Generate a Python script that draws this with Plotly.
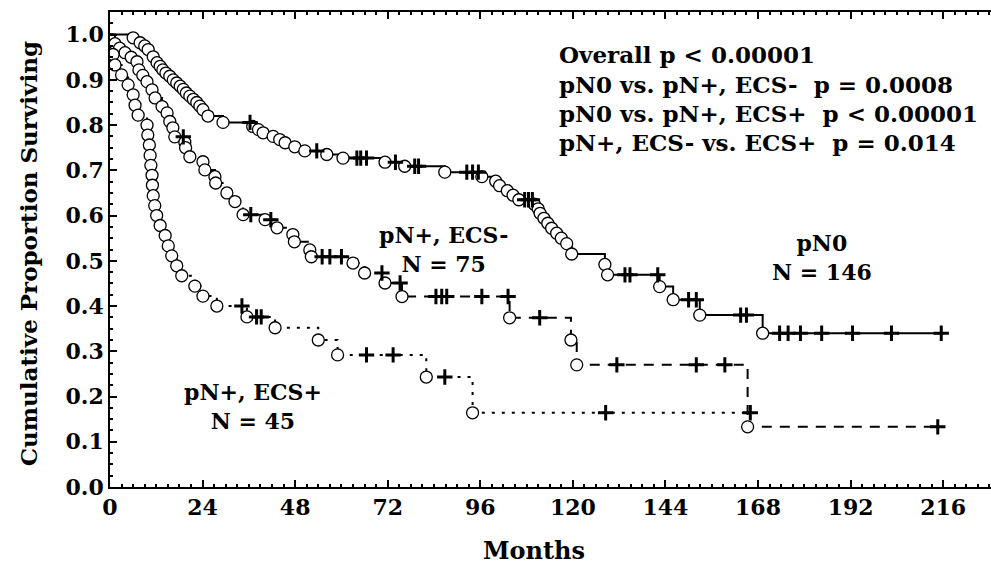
import plotly.graph_objects as go

# ---------------- data ----------------
# pN0, N = 146  (event times in months, survival after the event)
pn0_event_t = [6.0, 7.8, 9.0, 9.9, 11.2, 12.2, 13.0, 13.7, 14.5, 15.5, 16.4, 17.3, 18.2, 19.0, 19.8,
               20.7, 21.6, 22.5, 23.3, 24.1, 25.4, 29.3, 37.0, 38.5, 39.7, 42.3, 44.0, 45.4, 47.9, 50.5,
               56.2, 60.4, 71.3, 76.4, 86.8, 96.4, 100.0, 101.0, 103.0, 104.5, 106.0, 110.0, 111.0, 111.5,
               112.5, 113.5, 114.5, 115.8, 117.0, 118.4, 119.7, 128.3, 129.0, 142.5, 146.0, 152.9, 169.2]
pn0_event_s = [0.993, 0.982, 0.975, 0.967, 0.951, 0.938, 0.930, 0.922, 0.915, 0.908, 0.900, 0.893, 0.886,
               0.879, 0.871, 0.864, 0.857, 0.850, 0.842, 0.834, 0.820, 0.806, 0.797, 0.790, 0.783, 0.775,
               0.768, 0.761, 0.752, 0.743, 0.735, 0.727, 0.718, 0.709, 0.696, 0.686, 0.676, 0.666, 0.655,
               0.645, 0.635, 0.625, 0.615, 0.605, 0.594, 0.583, 0.572, 0.561, 0.550, 0.538, 0.515, 0.492,
               0.469, 0.443, 0.414, 0.380, 0.340]
pn0_censor_t = [36.3, 53.6, 64.0, 65.0, 66.5, 74.0, 79.0, 80.0, 92.5, 94.0, 95.5, 107.5, 108.5, 109.5,
                133.5, 134.8, 142.0, 150.0, 152.0, 163.5, 165.0, 173.6, 175.8, 179.0, 184.5, 192.5,
                202.6, 215.5]

# pN+, ECS-, N = 75
ecsneg_event_t = [1.3, 2.5, 3.9, 5.5, 7.0, 7.5, 8.5, 9.6, 10.9, 11.7, 13.5, 14.8, 15.5, 16.3, 16.8,
                  19.4, 19.6, 20.7, 24.1, 24.6, 27.2, 27.4, 30.3, 32.4, 34.5, 40.2, 43.3, 47.4, 47.8,
                  51.8, 52.2, 63.0, 66.0, 71.3, 75.7, 103.6, 119.5, 121.0, 165.3]
ecsneg_event_s = [0.980, 0.970, 0.960, 0.950, 0.940, 0.922, 0.910, 0.896, 0.878, 0.860, 0.841, 0.827,
                  0.808, 0.794, 0.774, 0.762, 0.750, 0.730, 0.719, 0.701, 0.686, 0.672, 0.650, 0.631,
                  0.602, 0.591, 0.573, 0.558, 0.542, 0.524, 0.509, 0.495, 0.473, 0.451, 0.421, 0.374,
                  0.325, 0.270, 0.133]
ecsneg_censor_t = [19.0, 36.5, 41.7, 55.0, 57.0, 60.0, 70.5, 75.2, 84.5, 86.0, 87.3, 96.4, 103.2,
                   111.4, 131.4, 152.0, 159.4, 214.6]

# pN+, ECS+, N = 45
ecspos_event_t = [0.8, 1.3, 3.0, 4.7, 6.0, 6.5, 7.3, 9.6, 9.8, 10.2, 10.4, 10.6, 10.9, 11.0, 11.2,
                  11.6, 12.1, 13.0, 14.3, 15.1, 16.0, 17.3, 18.6, 22.0, 24.1, 27.7, 35.5, 42.8, 54.0,
                  59.0, 82.0, 94.0]
ecspos_event_s = [0.956, 0.933, 0.911, 0.889, 0.867, 0.844, 0.822, 0.800, 0.778, 0.756, 0.733, 0.711,
                  0.689, 0.667, 0.644, 0.622, 0.600, 0.578, 0.556, 0.533, 0.511, 0.489, 0.467, 0.444,
                  0.422, 0.400, 0.376, 0.352, 0.325, 0.292, 0.243, 0.164]
ecspos_censor_t = [34.2, 38.0, 39.2, 66.5, 73.4, 86.8, 128.5, 166.0]

x_tick_vals = [0, 24, 48, 72, 96, 120, 144, 168, 192, 216]

pvalue_lines = ["Overall p < 0.00001",
                "pN0 vs. pN+, ECS-\u00a0\u00a0p = 0.0008",
                "pN0 vs. pN+, ECS+\u00a0\u00a0p < 0.00001",
                "pN+, ECS- vs. ECS+\u00a0\u00a0p = 0.014"]

group_labels = ["pN+, ECS-<br>N = 75", "pN0<br>N = 146", "pN+, ECS+<br>N = 45"]

FONT = "DejaVu Serif"


def level_at(t, et, es):
    s = 1.0
    for a, b in zip(et, es):
        if a <= t:
            s = b
    return s


fig = go.Figure()

groups = [
    (pn0_event_t, pn0_event_s, pn0_censor_t, "solid"),
    (ecsneg_event_t, ecsneg_event_s, ecsneg_censor_t, "10px,8px"),
    (ecspos_event_t, ecspos_event_s, ecspos_censor_t, "3px,7px"),
]

for et, es, ct, dash in groups:
    end_t = max(ct[-1], et[-1])
    xs = [0.0] + list(et) + [end_t]
    ys = [1.0] + list(es) + [es[-1]]
    fig.add_trace(go.Scatter(x=xs, y=ys, mode="lines", line=dict(color="black", width=2, dash=dash, shape="hv"),
                             hoverinfo="skip", showlegend=False))

for et, es, ct, dash in groups:
    fig.add_trace(go.Scatter(x=et, y=es, mode="markers",
                             marker=dict(symbol="circle", size=12, color="white",
                                         line=dict(color="black", width=1.3)),
                             showlegend=False))

for et, es, ct, dash in groups:
    cy = [level_at(t, et, es) for t in ct]
    fig.add_trace(go.Scatter(x=ct, y=cy, mode="markers",
                             marker=dict(symbol="cross-thin", size=11, color="black",
                                         line=dict(color="black", width=3)),
                             showlegend=False))

ann_font = dict(family=FONT, size=23, color="black", weight="bold")
line_y = [0.955, 0.889, 0.825, 0.761]
for txt, yy in zip(pvalue_lines, line_y):
    fig.add_annotation(x=115.8, y=yy, text=txt, showarrow=False, xanchor="left",
                       yanchor="middle", font=ann_font)

label_pos = [(86.5, 0.526), (184.6, 0.508), (37.0, 0.179)]
for txt, (xx, yy) in zip(group_labels, label_pos):
    fig.add_annotation(x=xx, y=yy, text=txt, showarrow=False, xanchor="center", align="center",
                       yanchor="middle", font=dict(family=FONT, size=22, color="black", weight="bold"))

# axis titles
fig.add_annotation(x=110, y=-0.133, xref="x", yref="paper", text="Months", showarrow=False,
                   xanchor="center", yanchor="middle",
                   font=dict(family=FONT, size=24, color="black", weight="bold"))
fig.add_annotation(x=-0.093, y=0.49, xref="paper", yref="paper", text="Cumulative Proportion Surviving",
                   textangle=-90, showarrow=False, xanchor="center", yanchor="middle",
                   font=dict(family=FONT, size=23, color="black", weight="bold"))

tick_font = dict(family=FONT, size=22, color="black", weight="bold")

fig.update_layout(
    width=991, height=566,
    margin=dict(l=110, r=0, t=12, b=79),
    plot_bgcolor="white", paper_bgcolor="white",
    showlegend=False,
    xaxis=dict(range=[0, 228.4], tickvals=x_tick_vals, ticks="inside", ticklen=7, tickwidth=1.5,
               tickcolor="black", showline=True, linecolor="black", linewidth=1.5, mirror="allticks",
               showgrid=False, zeroline=False, tickfont=tick_font,
               minor=dict(dtick=3, tick0=0, ticks="inside", ticklen=3, tickcolor="black", showgrid=False)),
    yaxis=dict(range=[0, 1.05], tick0=0, dtick=0.1, tickformat=".1f", ticks="inside", ticklen=7,
               tickwidth=1.5, tickcolor="black", showline=True, linecolor="black", linewidth=1.5,
               mirror=False, showgrid=False, zeroline=False, tickfont=tick_font,
               minor=dict(dtick=0.025, tick0=0, ticks="inside", ticklen=3, tickcolor="black", showgrid=False)),
)

fig.write_html("out.html")
